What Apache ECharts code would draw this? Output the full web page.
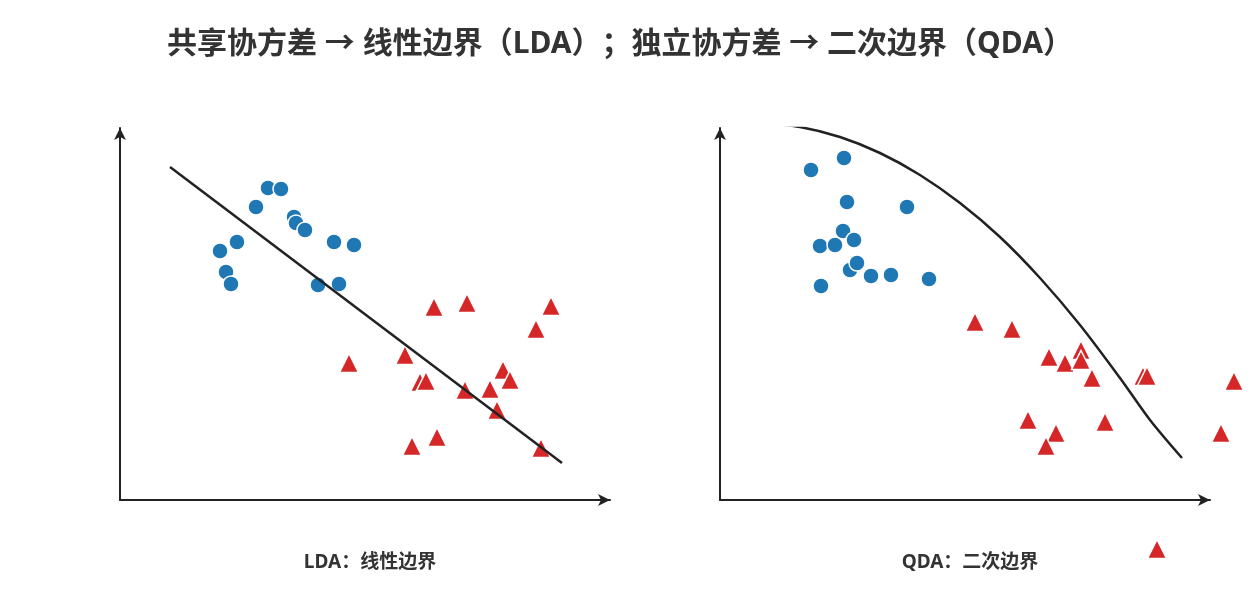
<!DOCTYPE html>
<html><head><meta charset="utf-8">
<script src="https://cdn.jsdelivr.net/npm/echarts@6/dist/echarts.min.js"></script>
<style>html,body{margin:0;background:#fff}#c{width:1250px;height:600px}</style></head>
<body><div id="c"></div>
<script>
// values in axis units (0..490 x, 0..372 y)
const ldaBlue=[[100,249],[106,228],[111,216],[117,258],[136,293],[148,312],[161,311],[174,283],[176,277],[185,270],[198,215],[214,258],[219,216],[234,255]];
const ldaRed=[[229,137],[285,145],[300,118],[306,119],[292,54],[317,63],[314,193],[347,197],[345,110],[370,111],[377,90],[383,130],[390,120],[416,171],[431,194],[421,52]];
const ldaLine=[[50,333],[442,37]];
const qdaBlue=[[91,330],[124,342],[127,298],[187,293],[100,254],[115,255],[123,269],[134,260],[130,230],[137,237],[151,224],[171,225],[209,221],[101,214]];
const qdaRed=[[255,178],[292,171],[329,143],[345,137],[361,150],[361,140],[372,122],[308,80],[336,67],[326,54],[385,78],[423,124],[427,124],[514,119],[501,67],[437,-49]];
const qdaCurve=[[40,377],[80,373],[120,363],[160,347],[200,325],[240,297],[280,263],[320,222],[360,175],[400,122],[430,80],[462,42]];
const chart=echarts.init(document.getElementById('c'));
const ax=(i,max)=>({gridIndex:i,type:'value',min:0,max:max,axisLabel:{show:false},axisTick:{show:false},splitLine:{show:false},
 axisLine:{lineStyle:{color:'#222',width:2},symbol:['none','arrow'],symbolSize:[9,12]}});
const blue='#1f77b4',red='#d62728';
const sc=(i,d,c,sym,sz)=>({type:'scatter',xAxisIndex:i,yAxisIndex:i,data:d,symbol:sym,symbolSize:sz,clip:false,
 itemStyle:{color:c,borderColor:'#fff',borderWidth:1.5,opacity:1}});
const ln=(i,d,sm)=>({type:'line',xAxisIndex:i,yAxisIndex:i,data:d,smooth:sm,showSymbol:false,clip:false,lineStyle:{color:'#222',width:2.5}});
const ff='"Noto Sans","Noto Sans CJK SC",sans-serif';
chart.setOption({
 title:[{text:'共享协方差 → 线性边界（LDA）；独立协方差 → 二次边界（QDA）',left:615,top:24,textAlign:'center',textStyle:{fontFamily:ff,fontSize:30,fontWeight:'bold',color:'#333'}},
  {text:'LDA：线性边界',left:365,top:548,textAlign:'center',textStyle:{fontFamily:ff,fontSize:19,fontWeight:'bold',color:'#333'}},
  {text:'QDA：二次边界',left:965,top:548,textAlign:'center',textStyle:{fontFamily:ff,fontSize:19,fontWeight:'bold',color:'#333'}}],
 grid:[{left:120,top:128,width:490,height:372},{left:720,top:128,width:490,height:372}],
 xAxis:[ax(0,490),ax(1,490)],yAxis:[ax(0,372),ax(1,372)],
 series:[ln(0,ldaLine,false),sc(0,ldaBlue,blue,'circle',16),sc(0,ldaRed,red,'triangle',19),
  ln(1,qdaCurve,0.3),sc(1,qdaBlue,blue,'circle',16),sc(1,qdaRed,red,'triangle',19)]
});
</script></body></html>
